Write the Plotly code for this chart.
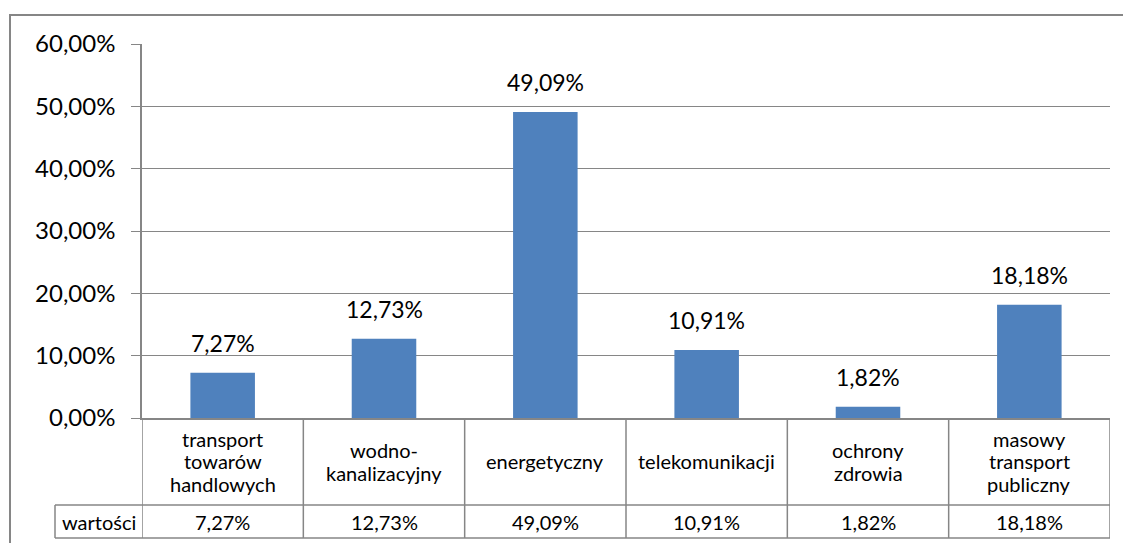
import plotly.graph_objects as go

# dane
kategorie = ["transport<br>towarów<br>handlowych", "wodno-<br>kanalizacyjny", "energetyczny",
             "telekomunikacji", "ochrony<br>zdrowia", "masowy<br>transport<br>publiczny"]
wartosci = [0.0727, 0.1273, 0.4909, 0.1091, 0.0182, 0.1818]
nazwa_serii = "wartości"
y_ticki = [0.0, 0.1, 0.2, 0.3, 0.4, 0.5, 0.6]

W, H = 1123, 543
L, R, T, B = 142, 13, 44, 125
szary = "#868686"
czcionka = "Lato"
kolor_tekstu = "#000000"
odstep_wierszy = 22.5

pw = W - L - R
ph = H - T - B


def py(pix):
    # piksel w pionie -> wspolrzedna paper
    return (H - B - pix) / ph


def px(pix):
    return (pix - L) / pw


def pl(v):
    return f"{v * 100:.2f}%".replace(".", ",")


fig = go.Figure()
fig.add_trace(go.Bar(x=list(range(len(kategorie))), y=wartosci, width=0.4,
                     marker=dict(color="#4F81BD", line=dict(width=0)),
                     hoverinfo="skip"))

# etykiety nad slupkami
for i, v in enumerate(wartosci):
    fig.add_annotation(x=i, y=v, text=pl(v), showarrow=False, yanchor="bottom", xanchor="center",
                       yshift=14, font=dict(size=23, color=kolor_tekstu, family=czcionka))

# tabela danych pod wykresem
wiersz1 = py(505)
wiersz2 = py(538)
tabela_font = dict(size=20, color=kolor_tekstu, family=czcionka)
for i, k in enumerate(kategorie):
    linie = k.split("<br>")
    n = len(linie)
    for j, t in enumerate(linie):
        fig.add_annotation(x=i, xref="x", y=(0 + wiersz1) / 2, yref="paper", text=t,
                           showarrow=False, yanchor="middle", xanchor="center",
                           yshift=((n - 1) / 2 - j) * odstep_wierszy, font=tabela_font)
    fig.add_annotation(x=i, xref="x", y=(wiersz1 + wiersz2) / 2, yref="paper", text=pl(wartosci[i]),
                       showarrow=False, yanchor="middle", xanchor="center", font=tabela_font)
fig.add_annotation(x=(px(55) + 0) / 2, xref="paper", y=(wiersz1 + wiersz2) / 2, yref="paper",
                   text=nazwa_serii, showarrow=False, yanchor="middle", xanchor="center",
                   font=tabela_font)

linia = dict(color=szary, width=1.5)
for i in range(len(kategorie) + 1):
    fig.add_shape(type="line", xref="x", yref="paper", x0=i - 0.5, x1=i - 0.5,
                  y0=0, y1=wiersz2, line=linia)
for yy in (wiersz1, wiersz2):
    fig.add_shape(type="line", xref="paper", yref="paper", x0=px(55), x1=1,
                  y0=yy, y1=yy, line=linia)
fig.add_shape(type="line", xref="paper", yref="paper", x0=px(55), x1=px(55),
              y0=wiersz1, y1=wiersz2, line=linia)

# ramka obszaru wykresu
fig.add_shape(type="rect", xref="paper", yref="paper", x0=px(10), x1=px(1135),
              y0=py(560), y1=py(15), line=dict(color=szary, width=2))

fig.update_layout(
    width=W, height=H, margin=dict(l=L, r=R, t=T, b=B),
    plot_bgcolor="white", paper_bgcolor="white",
    separators=",.", showlegend=False, bargap=0.6,
    font=dict(family=czcionka, color=kolor_tekstu),
)
fig.update_xaxes(range=[-0.5, len(kategorie) - 0.5], showticklabels=False, showgrid=False,
                 zeroline=False, showline=True, linecolor=szary, linewidth=1.5, ticks="")
fig.update_yaxes(range=[0, 0.6], tickvals=y_ticki, tickformat=".2%", showgrid=True,
                 gridcolor=szary, gridwidth=1, zeroline=False, showline=True, linecolor=szary,
                 linewidth=1.5, ticks="outside", ticklen=9, tickcolor=szary,
                 ticklabelstandoff=11, tickfont=dict(size=24, family=czcionka, color=kolor_tekstu))

fig.write_html("out.html", config={"displayModeBar": False},
               post_script="document.body.style.margin='0';document.body.style.overflow='hidden';")
